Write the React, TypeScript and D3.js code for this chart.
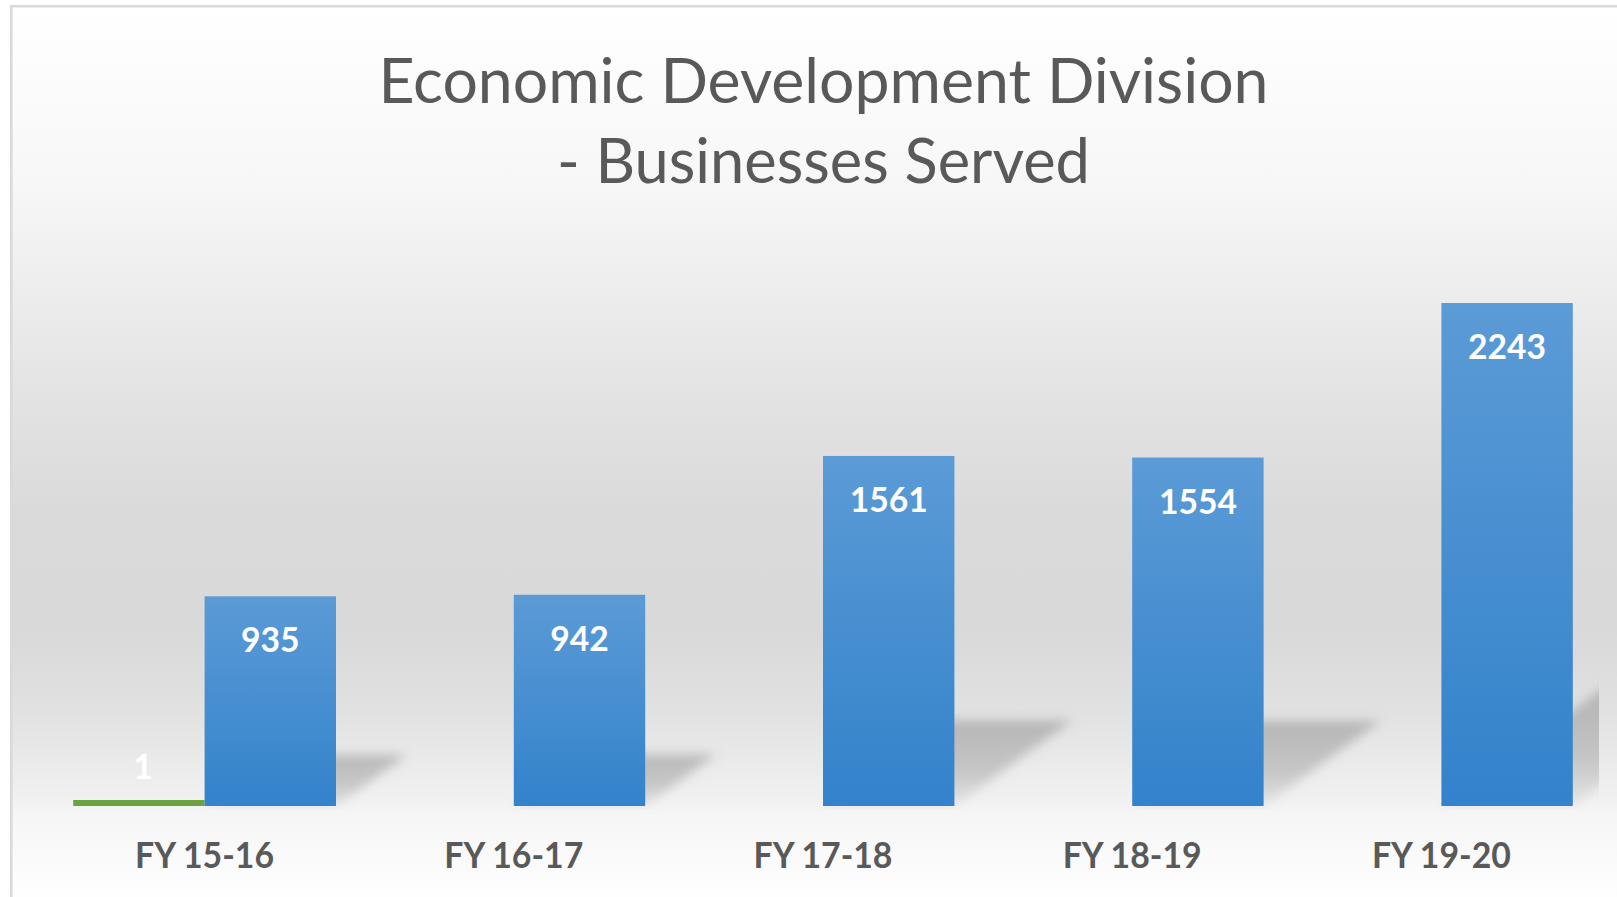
import React from "react";
import * as d3 from "d3";

const categories = ["FY 15-16", "FY 16-17", "FY 17-18", "FY 18-19", "FY 19-20"];
const seriesKeys = ["other", "served"];
const otherValues: (number | null)[] = [1, null, null, null, null];
const servedValues: (number | null)[] = [935, 942, 1561, 1554, 2243];
const titleLines = ["Economic Development Division", "- Businesses Served"];
const yMax = 2500;

const W = 1617;
const H = 897;
const plotLeft = 50;
const plotRight = 1596;
const baseY = 806;
const topY = 245.4;

export default function App() {
  const x = d3.scaleBand<string>().domain(categories).range([plotLeft, plotRight]).paddingInner(0.15).paddingOuter(0.075);
  const xi = d3.scaleBand<string>().domain(seriesKeys).range([0, x.bandwidth()]);
  const y = d3.scaleLinear().domain([0, yMax]).range([baseY, topY]);

  const bars: { key: string; cat: string; value: number; x0: number; w: number }[] = [];
  categories.forEach((c, i) => {
    const a = otherValues[i];
    const b = servedValues[i];
    if (a != null) bars.push({ key: "other", cat: c, value: a, x0: (x(c) as number) + (xi("other") as number), w: xi.bandwidth() });
    if (b != null) bars.push({ key: "served", cat: c, value: b, x0: (x(c) as number) + (xi("served") as number), w: xi.bandwidth() });
  });

  const font = "Lato, 'Open Sans', sans-serif";

  return (
    <svg width={W} height={H} style={{ position: "absolute", left: 0, top: 0 }} xmlns="http://www.w3.org/2000/svg">
      <defs>
        <linearGradient id="bg" gradientUnits="userSpaceOnUse" x1="0" y1="6" x2="0" y2="897">
          <stop offset="0" stopColor="#ffffff" />
          <stop offset="0.2" stopColor="#f7f7f7" />
          <stop offset="0.33" stopColor="#ececec" />
          <stop offset="0.45" stopColor="#e2e2e2" />
          <stop offset="0.57" stopColor="#dadada" />
          <stop offset="0.7" stopColor="#d9d9d9" />
          <stop offset="0.79" stopColor="#e1e1e1" />
          <stop offset="0.89" stopColor="#f1f1f1" />
          <stop offset="0.91" stopColor="#f6f6f6" />
          <stop offset="1" stopColor="#fefefe" />
        </linearGradient>
        <linearGradient id="blue" x1="0" y1="0" x2="0" y2="1">
          <stop offset="0" stopColor="#5b9bd6" />
          <stop offset="1" stopColor="#3382cb" />
        </linearGradient>
        <linearGradient id="shadowGrad" x1="0" y1="0" x2="0" y2="1">
          <stop offset="0" stopColor="#888" stopOpacity="0.5" />
          <stop offset="0.6" stopColor="#888" stopOpacity="0.38" />
          <stop offset="1" stopColor="#888" stopOpacity="0.12" />
        </linearGradient>
        <filter id="blur" x="-20%" y="-20%" width="140%" height="140%">
          <feGaussianBlur stdDeviation="5.5" />
        </filter>
        <clipPath id="plotClip">
          <rect x={plotLeft} y={0} width={plotRight + 3 - plotLeft} height={baseY + 4} />
        </clipPath>
      </defs>

      <rect x={11.3} y={6.2} width={W + 20} height={H + 20} fill="url(#bg)" stroke="#d9d9d9" strokeWidth={2.5} />

      {titleLines.map((t, i) => (
        <text
          key={t}
          x={823.5}
          y={103 + i * 79.5}
          textAnchor="middle"
          fontFamily={font}
          fontSize={61}
          fill="#595959"
          textLength={i === 0 ? 890 : 533}
          lengthAdjust="spacingAndGlyphs"
        >
          {t}
        </text>
      ))}

      <g clipPath="url(#plotClip)">
        {bars
          .filter((b) => b.key === "served")
          .map((b) => {
            const h = baseY - y(b.value);
            const dx = h * 0.337;
            const dy = h * 0.245;
            const x0 = b.x0;
            const x1 = b.x0 + b.w;
            const pts = [
              [x0, baseY],
              [x1, baseY],
              [x1 + dx, baseY - dy],
              [x0 + dx, baseY - dy],
            ];
            return (
              <polygon key={"s" + b.cat} points={pts.map((p) => p.join(",")).join(" ")} fill="url(#shadowGrad)" filter="url(#blur)" />
            );
          })}
      </g>

      {bars.map((b) => {
        const top = y(b.value);
        const h = Math.max(baseY - top, b.key === "other" ? 6 : 0);
        return (
          <rect
            key={b.key + b.cat}
            x={b.x0}
            y={baseY - h}
            width={b.w}
            height={h}
            fill={b.key === "served" ? "url(#blue)" : "#6aa33f"}
          />
        );
      })}

      {bars.map((b) => {
        const label = String(b.value);
        const baseline = Math.min(y(b.value) + 56, baseY - 27);
        return (
          <text
            key={"l" + b.key + b.cat}
            x={b.x0 + b.w / 2 + (b.key === "other" ? 4 : 0)}
            y={baseline}
            textAnchor="middle"
            fontFamily={font}
            fontWeight={700}
            fontSize={35}
            fill="#ffffff"
            textLength={label.length * 19.5}
            lengthAdjust="spacingAndGlyphs"
          >
            {label}
          </text>
        );
      })}

      {categories.map((c) => (
        <text
          key={"c" + c}
          x={(x(c) as number) + x.bandwidth() / 2}
          y={868}
          textAnchor="middle"
          fontFamily={font}
          fontWeight={700}
          fontSize={36}
          fill="#595959"
          textLength={139}
          lengthAdjust="spacingAndGlyphs"
        >
          {c}
        </text>
      ))}
    </svg>
  );
}
